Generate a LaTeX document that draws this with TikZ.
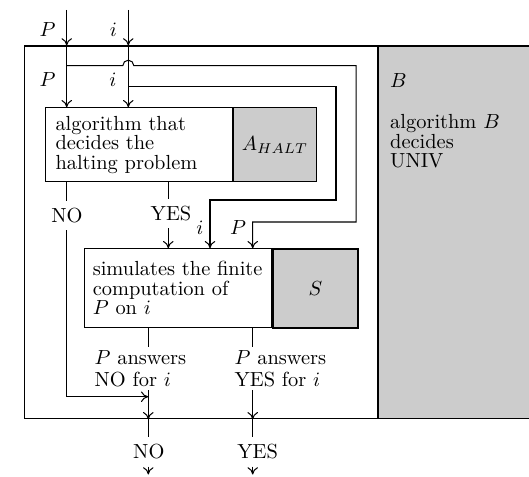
\documentclass[tikz,border=0pt]{standalone}
\usepackage{tikz}
\usetikzlibrary{positioning,calc,arrows.meta}

\begin{document}
\begin{tikzpicture}[
  x=0.49pt, y=-0.49pt,
  font=\fontsize{10}{9.6}\selectfont,
  line width=0.5pt,
  unit/.style={draw, align=left, anchor=north west, inner ysep=0pt},
  oracle/.style={draw, fill=black!20, anchor=north west, inner sep=0pt},
  shell/.style={draw, anchor=north west, inner sep=0pt},
  lbl/.style={inner sep=0pt},
  tag/.style={inner sep=3.33pt},
  ans/.style={align=left, anchor=north west, inner sep=1.5pt,
              font=\fontsize{10}{10.6}\selectfont},
  arr/.style={-{To[length=3.6pt,width=5.2pt]}}
]
\useasboundingbox (0,0) rectangle (529,476);

% --- algorithm B: outer box and shaded part ---
\node[shell, minimum width=173pt, minimum height=182.7pt] (bbox) at (24,45.5) {};
\node[shell, fill=black!20, minimum width=75.5pt, minimum height=182.7pt] (bgray) at (bbox.north east) {};
\draw[line width=1pt] (bgray.north west) -- (bgray.south west);
\node[align=left, anchor=north west, inner sep=0pt] (btxt) at (389.7,73.3)
  {$B$\\[10.5pt]algorithm $B$\\decides\\UNIV};

% --- the two inner units ---
\node[unit, text width=81.7pt, inner xsep=4.9pt, minimum height=36.1pt] (halt) at (45,107.3)
  {algorithm that\\decides the\\halting problem};
\node[oracle, minimum width=40.8pt, minimum height=36.1pt] (ahalt) at (halt.north east) {$A_{HALT}$};

\node[unit, text width=83.5pt, inner xsep=4.05pt, minimum height=38.7pt] (sim) at (84,248.3)
  {simulates the finite\\computation of\\$P$ on $i$};
\node[oracle, line width=1pt, minimum width=41.6pt, minimum height=38.7pt] (sgray) at (sim.north east) {$S$};

% --- inputs ---
\coordinate (pin) at (66.7,10);
\coordinate (iin) at (128.3,10);
\node[lbl] (pout) at (47.5,30) {$P$};
\node[lbl] (iout) at (113.5,30) {$i$};
\node[lbl] (pins) at (47.5,80) {$P$};
\node[lbl] (iins) at (113,80) {$i$};
\foreach \c in {pin,iin} {
  \draw[arr] (\c) -- (\c |- bbox.north);
  \draw[arr] (\c |- bbox.north) -- (\c |- halt.north);
}

% copies of P and i to the simulator
\coordinate (pfork) at (66.7,65.7);
\coordinate (hop) at (iin |- pfork);
\coordinate (ifork) at (128.3,86.7);
\coordinate (pcol) at (252.7,222);
\coordinate (icol) at (210,200);
\draw[arr] (pfork) -- ($(hop)-(5.5,0)$) arc[start angle=180, end angle=360, radius=5.5]
  -- (356,65.7) |- (pcol) -- (pcol |- sim.north);
\draw[arr] (ifork) -- (336,86.7) |- (icol) -- (icol |- sim.north);
\node[lbl] (isim) at (200,228) {$i$};
\node[lbl] (psim) at (238,228) {$P$};

% --- answers of the halting unit ---
\coordinate (yescol) at (168.3,0);
\coordinate (nocol) at (148.3,0);
\coordinate (yesout) at (252.7,0);
\node[tag] (yes) at (171,213.5) {YES};
\node[tag] (no) at (67,215.5) {NO};
\draw (halt.south -| yescol) -- (yes.north -| yescol);
\draw[arr] (yes.south -| yescol) -- (sim.north -| yescol);
\draw (halt.south -| pin) -- (no.north -| pin);
\coordinate (nojoin) at (148.3,396.7);
\draw[arr] (no.south -| pin) |- (nojoin);

% --- answers of the simulator ---
\node[ans] (ansno) at (91,347) {$P$ answers\\NO for $i$};
\node[ans] (ansyes) at (231,347) {$P$ answers\\YES for $i$};
\draw (sim.south -| nocol) -- (ansno.north -| nocol);
\draw[arr] (ansno.south -| nocol) -- (bbox.south -| nocol);
\draw (sim.south -| yesout) -- (ansyes.north -| yesout);
\draw[arr] (ansyes.south -| yesout) -- (bbox.south -| yesout);

% --- outputs of B ---
\coordinate (end) at (0,474.5);
\node[tag] (outno) at (148.8,452) {NO};
\node[tag] (outyes) at (257.7,452) {YES};
\draw (bbox.south -| nocol) -- (outno.north -| nocol);
\draw[arr] (outno.south -| nocol) -- (nocol |- end);
\draw (bbox.south -| yesout) -- (outyes.north -| yesout);
\draw[arr] (outyes.south -| yesout) -- (yesout |- end);

\end{tikzpicture}
\end{document}
